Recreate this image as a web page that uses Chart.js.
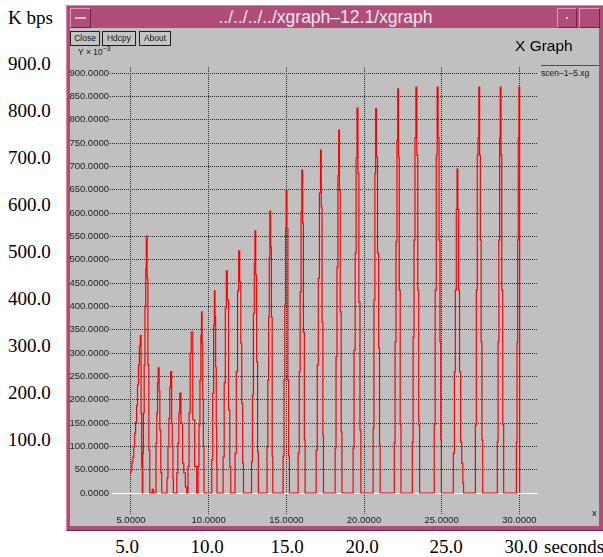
<!DOCTYPE html>
<html>
<head>
<meta charset="utf-8">
<script src="https://cdn.jsdelivr.net/npm/chart.js@4.4.0/dist/chart.umd.min.js"></script>
<style>
body { margin:0; width:603px; height:557px; background:#fff; position:relative; overflow:hidden; font-family:"Liberation Sans", Arial, sans-serif; }
.abs { position:absolute; }
#win { left:66px; top:5px; width:537px; height:526px; background:#b04c7a; box-sizing:border-box; border-top:1px solid #d885aa; border-left:1px solid #d885aa; border-bottom:1px solid #6e2446; }
#title { left:0; top:0; width:517px; height:23px; line-height:23px; text-align:center; color:#f6e6ee; font-size:17.5px; }
.tbtn { background:#b04c7a; box-sizing:border-box; border-top:1px solid #e29bbb; border-left:1px solid #e29bbb; border-right:1px solid #6e2446; border-bottom:1px solid #6e2446; }
#content { left:70px; top:28px; width:529px; height:498px; background:#c0c0c0; }
.btn { top:3px; height:15px; box-sizing:border-box; border:1px solid #202020; background:#c4c4c4; font-size:8.5px; line-height:13px; text-align:center; color:#111; }
.outer { font-family:"Liberation Serif", "Times New Roman", serif; font-size:19px; color:#000; white-space:nowrap; line-height:20px; }
.small { font-size:8.5px; color:#111; white-space:nowrap; }
</style>
</head>
<body>
<div id="win" class="abs">
  <div id="title" class="abs">../../../../xgraph&#8211;12.1/xgraph</div>
  <div class="abs tbtn" style="left:3px;top:2px;width:21px;height:20px;"><div class="abs" style="left:4px;top:8px;width:11px;height:2px;background:#e8b8cc;"></div></div>
  <div class="abs tbtn" style="left:490px;top:2px;width:20px;height:20px;"><div class="abs" style="left:8px;top:8px;width:2px;height:2px;background:#e8b8cc;"></div></div>
  <div class="abs tbtn" style="left:512px;top:2px;width:21px;height:20px;"></div>
</div>
<div id="content" class="abs">
  <canvas id="chart" width="529" height="498"></canvas>
  <div class="abs btn" style="left:0px;width:30px;">Close</div>
  <div class="abs btn" style="left:32px;width:34px;">Hdcpy</div>
  <div class="abs btn" style="left:69px;width:32px;">About</div>
  <div class="abs" style="left:445px;top:9px;font-size:15.5px;color:#000;white-space:nowrap;">X Graph</div>
  <div class="abs small" style="left:8px;top:17px;">Y &#215; 10<sup style="font-size:7px;">&#8722;3</sup></div>
  <div class="abs" style="left:471px;top:37px;width:58px;height:1px;background:#ff0000;"></div>
  <div class="abs small" style="left:471px;top:40px;">scen&#8211;1&#8211;5.xg</div>
  <div class="abs small" style="left:522px;top:479px;font-size:9.5px;">x</div>
</div>
<div id="outerLabels"></div>
<script>
// x (seconds) and y (K bps, shown as Y x 10^-3)
var sampleTimes = [
  4.94,5.00,5.06,5.12,5.18,5.24,5.30,5.36,5.42,5.48,5.54,5.60,5.65,5.69,5.73,
  5.76,5.80,5.85,5.90,5.95,5.99,6.04,6.09,6.15,6.21,
  6.37,6.45,
  6.61,6.66,6.71,6.75,6.81,6.86,6.92,6.98,
  7.32,7.38,7.44,7.50,7.55,7.62,7.66,7.70,7.73,
  7.95,8.02,8.08,8.14,8.22,8.32,8.40,8.50,8.59,
  8.67,8.74,8.81,8.88,8.98,9.10,9.23,
  9.32,9.38,9.44,9.50,9.54,9.58,9.62,9.66,9.70,
  10.20,10.26,10.32,10.37,10.41,10.45,10.49,10.52,10.54,
  10.93,11.00,11.07,11.14,11.20,11.28,11.36,11.42,
  11.70,11.78,11.86,11.93,12.00,12.07,12.13,12.19,12.24,
  12.76,12.82,12.88,12.94,12.98,13.03,13.09,13.15,13.20,
  13.76,13.81,13.86,13.90,13.94,13.99,14.04,14.09,14.13,
  14.79,14.85,14.90,14.95,14.99,15.04,15.10,15.15,15.20,
  15.76,15.83,15.89,15.95,16.00,16.05,16.10,16.16,16.21,
  16.92,16.99,17.06,17.13,17.20,17.25,17.30,17.35,17.39,
  18.14,18.20,18.26,18.32,18.37,18.42,18.47,18.53,18.58,
  19.30,19.36,19.43,19.49,19.55,19.61,19.67,19.74,19.80,
  20.59,20.64,20.70,20.75,20.80,20.87,20.94,21.00,21.04,
  21.95,22.00,22.06,22.12,22.17,22.22,22.27,22.33,22.38,
  23.11,23.16,23.22,23.28,23.34,23.40,23.46,23.52,23.58,
  24.52,24.58,24.65,24.71,24.77,24.83,24.89,24.94,24.98,
  25.75,25.82,25.88,25.94,25.99,26.04,26.09,26.15,26.22,26.29,26.36,26.41,
  27.17,27.23,27.29,27.34,27.39,27.44,27.49,27.54,27.59,27.64,
  28.58,28.63,28.68,28.73,28.77,28.82,28.87,28.93,28.99,
  29.81,29.85,29.89,29.93,29.97,30.02
];
var sampleKbps = [
  43,49,66,77,99,128,152,188,231,274,315,338,171,56,0,
  85,171,274,400,482,551,460,274,92,0,
  8,0,
  107,171,236,268,220,135,43,0,
  32,99,160,227,260,150,99,32,0,
  43,107,171,214,150,64,43,13,0,
  57,171,300,345,157,57,0,
  57,146,242,338,388,321,200,100,0,
  71,214,360,433,377,270,141,56,0,
  77,236,396,476,414,178,56,0,
  85,260,433,519,452,321,192,64,0,
  67,210,385,492,562,467,281,88,0,
  99,242,377,504,604,527,377,79,0,
  79,242,403,568,649,568,242,79,0,
  85,260,431,602,692,579,345,114,0,
  92,274,460,643,735,613,366,124,0,
  96,292,484,681,778,649,388,131,0,
  96,306,514,718,825,685,409,135,0,
  139,414,685,824,720,514,311,103,0,
  107,324,538,756,866,720,435,146,0,
  109,334,542,761,870,724,435,146,0,
  146,435,724,870,761,542,324,114,0,
  85,260,435,608,694,608,435,260,109,64,21,0,
  146,435,724,761,870,724,542,324,114,0,
  109,324,542,761,870,724,435,146,0,
  109,324,542,761,870,0
];
var xTickValues = [5, 10, 15, 20, 25, 30];
var yTickValues = [0,50,100,150,200,250,300,350,400,450,500,550,600,650,700,750,800,850,900];
var outerYLabels = ['900.0','800.0','700.0','600.0','500.0','400.0','300.0','200.0','100.0'];
var outerXLabels = ['5.0','10.0','15.0','20.0','25.0','30.0'];

function buildPoints(){
	var pts = [];
	for (var i = 0; i < sampleTimes.length; i++){
		pts.push({x: sampleTimes[i], y: sampleKbps[i]});
	};
	return pts;
};

var zeroLine = {
	id: 'zeroLine',
	beforeDatasetsDraw: function(chart){
		var ctx = chart.ctx;
		var y = Math.round(chart.scales.y.getPixelForValue(0)) + 0.5;
		ctx.save();
		ctx.strokeStyle = '#ffffff';
		ctx.lineWidth = 1;
		ctx.beginPath();
		ctx.moveTo(chart.chartArea.left + 2, y);
		ctx.lineTo(chart.chartArea.right, y);
		ctx.stroke();
		ctx.restore();
	}
};

var context = document.getElementById('chart').getContext('2d');
var myChart = new Chart(context, {
	type: 'line',
	data: {
		datasets: [{
			label: 'scen-1-5.xg',
			data: buildPoints(),
			borderColor: '#ff0000',
			borderWidth: 1.2,
			pointRadius: 0,
			fill: false,
			stepped: 'before'
		}]
	},
	options: {
		responsive: false,
		animation: false,
		layout: {padding: {left: 0, top: 39, right: 61, bottom: 0}},
		plugins: {legend: {display: false}, tooltip: {enabled: false}},
		scales: {
			x: {
				type: 'linear', min: 3.65, max: 31.2,
				afterFit: function(s){ s.height = 12; },
				afterBuildTicks: function(s){ s.ticks = xTickValues.map(function(v){ return {value: v}; }); },
				grid: {color: '#2a2a2a', drawTicks: false},
				border: {display: false, dash: [1, 1]},
				ticks: {autoSkip: false, maxRotation: 0, padding: 1, color: '#1a1a1a',
					font: {family: 'Liberation Sans', size: 9.5},
					callback: function(v){ return v.toFixed(4); }}
			},
			y: {
				type: 'linear', min: -45, max: 913,
				afterFit: function(s){ s.width = 40; },
				afterBuildTicks: function(s){ s.ticks = yTickValues.map(function(v){ return {value: v}; }); },
				grid: {color: function(c){ return (c.tick && c.tick.value === 0) ? 'rgba(0,0,0,0)' : '#2a2a2a'; }, drawTicks: false},
				border: {display: false, dash: [1, 1]},
				ticks: {autoSkip: false, padding: 1, color: '#1a1a1a',
					font: {family: 'Liberation Sans', size: 9.5},
					callback: function(v){ return v.toFixed(4); }}
			}
		}
	},
	plugins: [zeroLine]
});

// outer figure annotation (serif labels around the window)
var holder = document.getElementById('outerLabels');
function addLabel(text, left, top, align){
	var d = document.createElement('div');
	d.className = 'abs outer';
	d.textContent = text;
	d.style.top = top + 'px';
	if (align == 'center'){
		d.style.left = (left - 40) + 'px';
		d.style.width = '80px';
		d.style.textAlign = 'center';
	} else {
		d.style.left = left + 'px';
	};
	holder.appendChild(d);
};
addLabel('K bps', 8, 8, 'left');
for (var i = 0; i < outerYLabels.length; i++){
	var v = parseFloat(outerYLabels[i]);
	addLabel(outerYLabels[i], 8, 487 - 0.47 * v - 10, 'left');
};
var outerXCenters = [127, 207, 287, 362, 446, 521];
for (var i = 0; i < outerXLabels.length; i++){
	addLabel(outerXLabels[i], outerXCenters[i], 537, 'center');
};
addLabel('seconds', 544, 537, 'left');
</script>
</body>
</html>
